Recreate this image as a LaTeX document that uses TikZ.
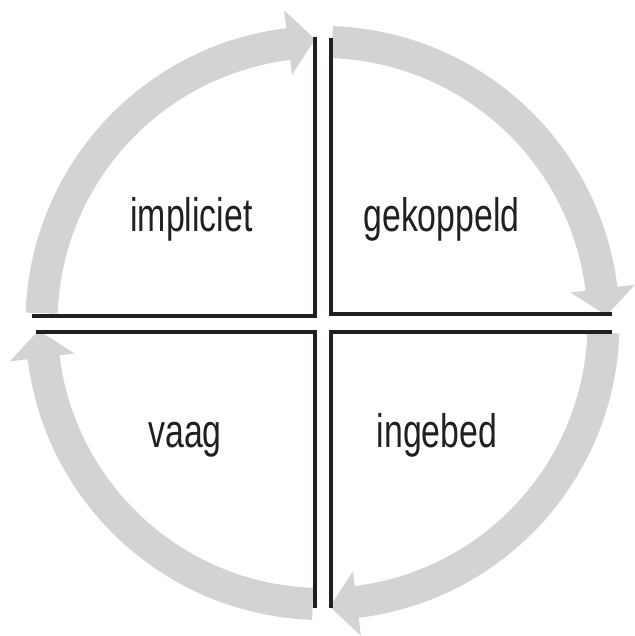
\documentclass[tikz,border=0pt]{standalone}
\usepackage{fontspec}
\setmainfont{Liberation Sans}[FakeStretch=0.72]
\begin{document}
\begin{tikzpicture}[x=1pt,y=1pt,
  arrowfill/.style={fill=arrowgray},
  quadline/.style={draw=lineblack,line width=3.5pt,line join=miter,line cap=butt},
  label/.style={anchor=base,inner sep=0pt,font=\fontsize{47}{50}\selectfont,text=lineblack}]
\definecolor{arrowgray}{RGB}{209,211,212}
\definecolor{lineblack}{RGB}{35,31,32}
\useasboundingbox (0,0) rectangle (634,636);
% circular arrows
\begin{scope}[shift={(322.5,313)}]
  \fill[arrowfill] (178:297) arc[start angle=178,end angle=97,radius=297]
     -- (97:315) -- (91.5:284) -- (97:250) -- (97:265)
     arc[start angle=97,end angle=178,radius=265] -- cycle;
  \fill[arrowfill] (88:297) arc[start angle=88,end angle=7,radius=297]
     -- (7:315) -- (1.5:284) -- (7:250) -- (7:265)
     arc[start angle=7,end angle=88,radius=265] -- cycle;
  \fill[arrowfill] (-2:297) arc[start angle=-2,end angle=-83,radius=297]
     -- (-83:315) -- (-88.5:284) -- (-83:250) -- (-83:265)
     arc[start angle=-83,end angle=-2,radius=265] -- cycle;
  \fill[arrowfill] (-92:297) arc[start angle=-92,end angle=-173,radius=297]
     -- (-173:315) -- (-178.5:284) -- (-173:250) -- (-173:265)
     arc[start angle=-173,end angle=-92,radius=265] -- cycle;
\end{scope}
% quadrant lines
\draw[quadline] (315,599) -- (315,320) -- (32,320);
\draw[quadline] (331,598) -- (331,322) -- (612,322);
\draw[quadline] (331,28) -- (331,304) -- (612,304);
\draw[quadline] (315,28) -- (315,304) -- (36,304);
% labels
\node[label] (impl) at (191.5,404) {impliciet};
\node[label] (gek) at (441.5,404) {gekoppeld};
\node[label] (vaag) at (185,188) {vaag};
\node[label] (ingb) at (437,188) {ingebed};
\end{tikzpicture}
\end{document}
